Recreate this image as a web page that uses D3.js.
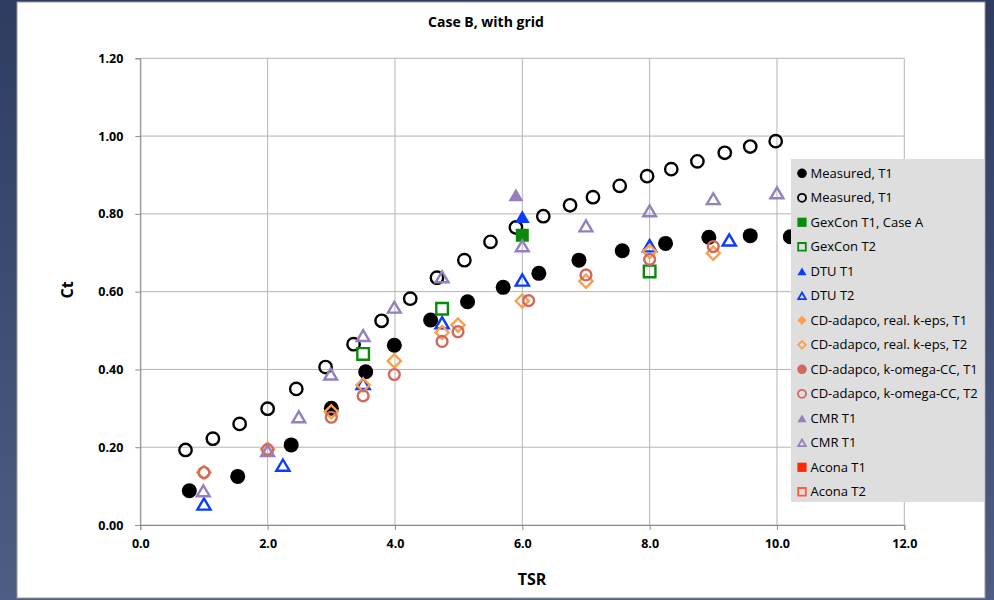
<!DOCTYPE html>
<html>
<head>
<meta charset="utf-8">
<script src="https://cdn.jsdelivr.net/npm/d3@7"></script>
<style>
  html, body { margin: 0; padding: 0; background: #3c4a70; }
  svg { display: block; }
</style>
</head>
<body>
<svg id="chart" width="994" height="600"></svg>
<script>
// Thrust coefficient (Ct) vs tip speed ratio (TSR), Case B with grid
const title = "Case B, with grid";
const xTicks = [0, 2, 4, 6, 8, 10, 12];
const yTicks = [0, 0.2, 0.4, 0.6, 0.8, 1.0, 1.2];

const measuredT1 = [[0.77,0.088],[1.53,0.125],[2.37,0.206],[3.00,0.300],[3.54,0.394],[3.99,0.462],[4.56,0.527],[5.14,0.574],[5.70,0.611],[6.26,0.647],[6.89,0.681],[7.57,0.705],[8.25,0.724],[8.93,0.740],[9.58,0.744],[10.21,0.741]];
const measuredT1b = [[0.71,0.193],[1.14,0.222],[1.56,0.260],[2.00,0.299],[2.45,0.350],[2.91,0.406],[3.35,0.465],[3.79,0.525],[4.24,0.582],[4.66,0.636],[5.09,0.681],[5.50,0.728],[5.90,0.765],[6.33,0.794],[6.75,0.822],[7.11,0.843],[7.53,0.872],[7.96,0.897],[8.34,0.915],[8.75,0.935],[9.18,0.957],[9.58,0.973],[9.98,0.987]];
const gexconT1 = [[6.00,0.745]];
const gexconT2 = [[3.50,0.440],[4.74,0.556],[8.00,0.652]];
const dtuT1 = [[6.00,0.793]];
const dtuT2 = [[1.00,0.054],[2.24,0.154],[3.50,0.364],[4.74,0.520],[6.00,0.630],[8.00,0.718],[9.25,0.733]];
const cdKepsT1 = [];
const cdKepsT2 = [[1.00,0.135],[2.00,0.195],[3.00,0.291],[3.50,0.360],[3.99,0.422],[4.74,0.495],[4.99,0.514],[6.00,0.576],[7.00,0.627],[8.00,0.703],[9.00,0.699]];
const cdKomT1 = [];
const cdKomT2 = [[1.00,0.135],[2.00,0.194],[3.00,0.277],[3.50,0.332],[3.99,0.387],[4.74,0.472],[4.99,0.497],[6.10,0.577],[7.00,0.643],[8.00,0.683],[9.00,0.716]];
const cmrT1 = [[5.90,0.849]];
const cmrT1b = [[0.99,0.088],[2.00,0.191],[2.49,0.278],[2.99,0.388],[3.50,0.487],[3.99,0.560],[4.74,0.638],[6.00,0.718],[7.00,0.769],[8.00,0.808],[9.00,0.839],[10.00,0.854]];
const aconaT1 = [];
const aconaT2 = [];

const series = [
  { name: "Measured, T1", data: measuredT1, shape: "circle", color: "#000000", fill: true, size: 7.5 },
  { name: "Measured, T1", data: measuredT1b, shape: "circle", color: "#000000", fill: false, size: 7.4 },
  { name: "GexCon T1, Case A", data: gexconT1, shape: "square", color: "#0a8a0a", fill: true, size: 6.5 },
  { name: "GexCon T2", data: gexconT2, shape: "square", color: "#0a8a0a", fill: false, size: 7 },
  { name: "DTU T1", data: dtuT1, shape: "triangle", color: "#0a3cff", fill: true, size: 7.5 },
  { name: "DTU T2", data: dtuT2, shape: "triangle", color: "#0a3cff", fill: false, size: 7.8 },
  { name: "CD-adapco, real. k-eps, T1", data: cdKepsT1, shape: "diamond", color: "#f9a04c", fill: true, size: 7.5 },
  { name: "CD-adapco, real. k-eps, T2", data: cdKepsT2, shape: "diamond", color: "#f9a04c", fill: false, size: 7.8 },
  { name: "CD-adapco, k-omega-CC, T1", data: cdKomT1, shape: "circle", color: "#d0695f", fill: true, size: 6.5 },
  { name: "CD-adapco, k-omega-CC, T2", data: cdKomT2, shape: "circle", color: "#d0695f", fill: false, size: 6.6 },
  { name: "CMR T1", data: cmrT1, shape: "triangle", color: "#9580bd", fill: true, size: 7.5 },
  { name: "CMR T1", data: cmrT1b, shape: "triangle", color: "#9580bd", fill: false, size: 7.6 },
  { name: "Acona T1", data: aconaT1, shape: "square", color: "#ff2a00", fill: true, size: 6 },
  { name: "Acona T2", data: aconaT2, shape: "square", color: "#ff5a3a", fill: false, size: 6 }
];

const svg = d3.select("#chart");
const font = "'Open Sans', 'Liberation Sans', sans-serif";

// outer background with a soft navy gradient
const defs = svg.append("defs");
const grad = defs.append("linearGradient").attr("id", "bg").attr("x1", 0).attr("y1", 0).attr("x2", 0).attr("y2", 1);
grad.append("stop").attr("offset", "0%").attr("stop-color", "#2e3c62");
grad.append("stop").attr("offset", "100%").attr("stop-color", "#4d5d84");
svg.append("rect").attr("width", 994).attr("height", 600).attr("fill", "url(#bg)");

// white chart panel
svg.append("rect").attr("x", 17).attr("y", 2).attr("width", 968).attr("height", 596)
  .attr("fill", "#ffffff").attr("stroke", "#9a9a9a").attr("stroke-width", 1);

const x = d3.scaleLinear().domain([0, 12]).range([140.3, 904.3]);
const y = d3.scaleLinear().domain([0, 1.2]).range([525, 58.3]);

// gridlines
const grid = svg.append("g");
grid.selectAll(".gx").data(xTicks).join("line")
  .attr("x1", d => x(d)).attr("x2", d => x(d)).attr("y1", y(1.2)).attr("y2", y(0))
  .attr("stroke", "#b4b4b4").attr("stroke-width", 1);
grid.selectAll(".gy").data(yTicks).join("line")
  .attr("x1", x(0)).attr("x2", x(12)).attr("y1", d => y(d)).attr("y2", d => y(d))
  .attr("stroke", "#b4b4b4").attr("stroke-width", 1);

// axes
const xAxis = svg.append("g").attr("transform", `translate(0,${y(0)})`)
  .call(d3.axisBottom(x).tickValues(xTicks).tickFormat(d3.format(".1f")).tickSize(5).tickPadding(9));
const yAxis = svg.append("g").attr("transform", `translate(${x(0)},0)`)
  .call(d3.axisLeft(y).tickValues(yTicks).tickFormat(d3.format(".2f")).tickSize(5).tickPadding(12));
[xAxis, yAxis].forEach(a => {
  a.select(".domain").attr("stroke", "#8c8c8c");
  a.selectAll(".tick line").attr("stroke", "#8c8c8c");
  a.selectAll("text").attr("font-family", font).attr("font-size", 12.5).attr("font-weight", "bold").attr("fill", "#000");
});
xAxis.selectAll(".tick text").attr("dy", "0.71em");

// titles
svg.append("text").attr("x", 486).attr("y", 27).attr("text-anchor", "middle")
  .attr("font-family", font).attr("font-size", 14).attr("font-weight", "bold").text(title);
svg.append("text").attr("x", 532).attr("y", 585).attr("text-anchor", "middle")
  .attr("font-family", font).attr("font-size", 16).attr("font-weight", "bold").text("TSR");
svg.append("text").attr("transform", "translate(73,290) rotate(-90)").attr("text-anchor", "middle")
  .attr("font-family", font).attr("font-size", 16).attr("font-weight", "bold").text("Ct");

// marker path builder
function markerPath(shape, s) {
  if (shape === "circle") return d3.arc()({ innerRadius: 0, outerRadius: s, startAngle: 0, endAngle: 2 * Math.PI });
  if (shape === "square") return `M${-s},${-s}H${s}V${s}H${-s}Z`;
  if (shape === "diamond") return `M0,${-s}L${s},0L0,${s}L${-s},0Z`;
  if (shape === "triangle") return `M0,${-s * 0.85}L${s},${s * 0.85}L${-s},${s * 0.85}Z`;
}

function drawMarker(sel, s, size) {
  const strokeW = s.fill ? 0 : 2.4;
  const r = s.fill ? size : size - 1.2;
  sel.attr("d", markerPath(s.shape, r))
    .attr("fill", s.fill ? s.color : "none")
    .attr("stroke", s.fill ? "none" : s.color)
    .attr("stroke-width", strokeW)
    .attr("stroke-linejoin", "miter");
}

const marks = svg.append("g");
series.forEach(s => {
  marks.append("g").selectAll("path").data(s.data).join("path")
    .attr("transform", d => `translate(${x(d[0])},${y(d[1])})`)
    .each(function () { drawMarker(d3.select(this), s, s.size); });
});

// legend
const lg = svg.append("g");
lg.append("rect").attr("x", 791).attr("y", 159).attr("width", 193).attr("height", 343).attr("fill", "#dedede");
series.forEach((s, i) => {
  const yy = 173.3 + i * 24.5;
  const g = lg.append("g");
  const m = g.append("path").attr("transform", `translate(802,${yy})`);
  const ls = s.shape === "circle" ? 4.8 : 4.6;
  m.attr("d", markerPath(s.shape, s.fill ? ls : ls - 0.8))
    .attr("fill", s.fill ? s.color : "none")
    .attr("stroke", s.fill ? "none" : s.color)
    .attr("stroke-width", s.fill ? 0 : 1.8);
  g.append("text").attr("x", 810.5).attr("y", yy).attr("dy", "0.35em")
    .attr("font-family", font).attr("font-size", 13).attr("fill", "#000").text(s.name);
});
</script>
</body>
</html>
